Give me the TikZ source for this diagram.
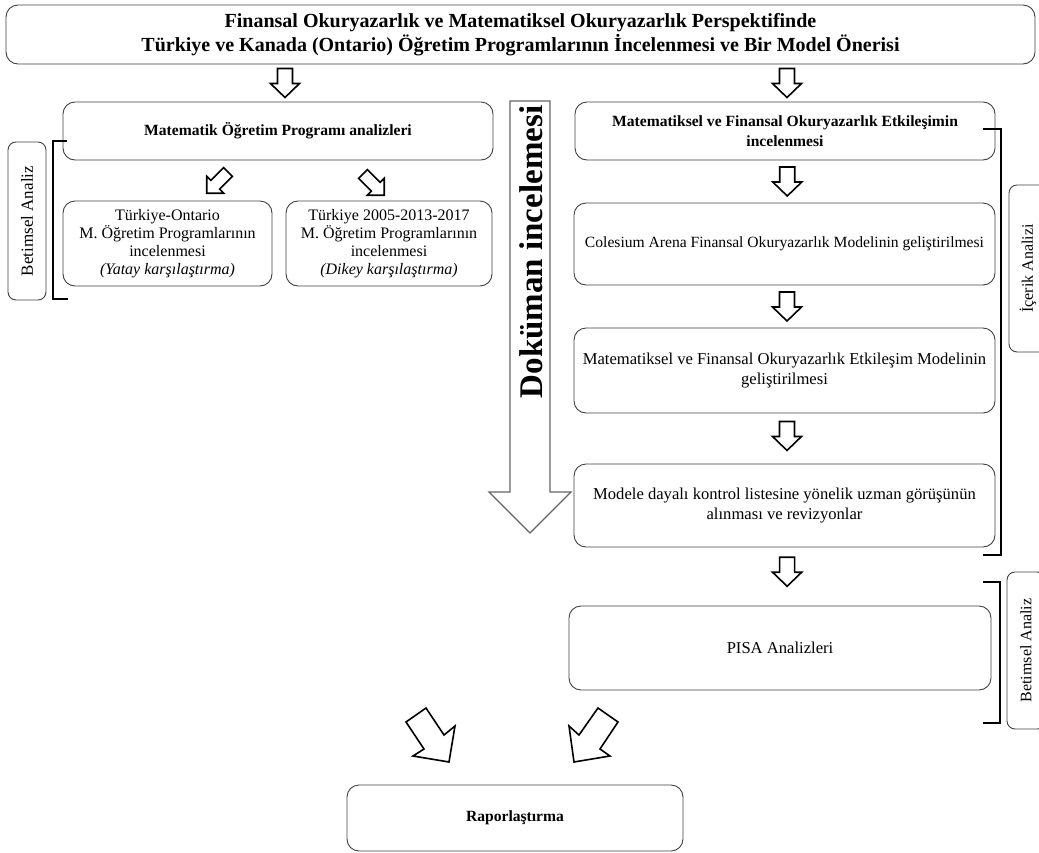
\documentclass[tikz,border=0pt]{standalone}
\usepackage{fontspec}
\setmainfont{Liberation Serif}
\usetikzlibrary{calc}

\tikzset{
  box/.style={draw=black!75, line width=0.9pt, rounded corners=12pt, align=center,
    inner sep=0pt, outer sep=0pt},
  titletext/.style={font=\bfseries\fontsize{20}{24}\selectfont},
  headtext/.style={font=\bfseries\fontsize{15.6}{20}\selectfont},
  bodytext/.style={font=\fontsize{16.6}{20}\selectfont},
  smalltext/.style={font=\fontsize{16}{18}\selectfont},
  sidebox/.style={draw=black!75, line width=0.9pt, rounded corners=8pt,
    inner sep=0pt, outer sep=0pt},
  sidetext/.style={font=\fontsize{16}{18}\selectfont, rotate=90},
  bracket/.style={draw=black, line width=2pt, line join=miter},
  barrow/.style={draw=black, line width=1.6pt, fill=white, line join=miter},
  bigarrow/.style={draw=black!60, line width=1.3pt, fill=white, line join=miter},
  % short hollow arrow pointing down, centred on the pic origin
  pics/downarrow/.style={code={
    \draw[barrow] (-7.5,-14.5) -- (7.5,-14.5) -- (7.5,0.5) -- (14.5,0.5)
      -- (0,14.5) -- (-14.5,0.5) -- (-7.5,0.5) -- cycle;}},
  % short hollow arrow pointing along +x, tail at the pic origin
  pics/tiltarrow/.style={code={
    \draw[barrow] (0,-6.25) -- (18,-6.25) -- (18,-12) -- (30,0)
      -- (18,12) -- (18,6.25) -- (0,6.25) -- cycle;}}
}

\begin{document}
\begin{tikzpicture}[x=1pt,y=-1pt]
\useasboundingbox (0,0) rectangle (1039,852);
\clip (0,0) rectangle (1039,852);

% title
\node[box, minimum width=1029pt, minimum height=59pt, titletext] (title) at (520.5,34.5)
  {Finansal Okuryazarlık ve Matematiksel Okuryazarlık Perspektifinde\\
   Türkiye ve Kanada (Ontario) Öğretim Programlarının İncelenmesi ve Bir Model Önerisi};

% left column
\node[box, minimum width=430pt, minimum height=58pt, headtext] (l1) at (278,131)
  {Matematik Öğretim Programı analizleri};
\node[box, minimum width=209pt, minimum height=85pt, smalltext] (l2) at (167.5,243.5)
  {Türkiye-Ontario\\M. Öğretim Programlarının\\incelenmesi\\\textit{(Yatay karşılaştırma)}};
\node[box, minimum width=206pt, minimum height=85pt, smalltext] (l3) at (389,243.5)
  {Türkiye 2005-2013-2017\\M. Öğretim Programlarının\\incelenmesi\\\textit{(Dikey karşılaştırma)}};

% right column
\node[box, minimum width=420pt, minimum height=58pt, headtext] (r1) at (785,131)
  {Matematiksel ve Finansal Okuryazarlık Etkileşimin\\incelenmesi};
\node[box, minimum width=421pt, minimum height=82pt, bodytext,
  font=\fontsize{15.6}{20}\selectfont] (r2) at (784.5,244)
  {Colesium Arena Finansal Okuryazarlık Modelinin geliştirilmesi};
\node[box, minimum width=421pt, minimum height=85pt, bodytext] (r3) at (784.5,370.5)
  {Matematiksel ve Finansal Okuryazarlık Etkileşim Modelinin\\geliştirilmesi};
\node[box, minimum width=421pt, minimum height=83pt, bodytext] (r4) at (784.5,505.5)
  {Modele dayalı kontrol listesine yönelik uzman görüşünün\\alınması ve revizyonlar};
\node[box, minimum width=422pt, minimum height=84pt, bodytext] (pisa) at (780,648)
  {PISA Analizleri};

% report
\node[box, minimum width=336pt, minimum height=66pt, headtext] (rap) at (515,818)
  {Raporlaştırma};

% down arrows
\pic at ($(title.south -| l1.north)!.5!(l1.north)+(7,0)$) {downarrow};
\pic at ($(title.south -| r1.north)!.5!(r1.north)+(2,0)$) {downarrow};
\pic at ($(r1.south)!.5!(r2.north)+(2.5,0)$) {downarrow};
\pic at ($(r2.south)!.5!(r3.north)+(2.5,0)$) {downarrow};
\pic at ($(r3.south)!.45!(r4.north)+(2.5,0)$) {downarrow};
\pic at ($(r4.south)!.42!(pisa.north)+(4.5,0)$) {downarrow};

% tilted arrows under the curriculum analysis box
\pic[rotate=-135] at (228,172) {tiltarrow};
\pic[rotate=-45] at (363,174) {tiltarrow};

% arrows into the report box
\draw[barrow] (406,722) -- (426,708) -- (444,735) -- (455,726) -- (449,762)
  -- (413,756) -- (424,749) -- cycle;
\draw[barrow] (598,708) -- (618,722) -- (600,749) -- (610,756) -- (574,762)
  -- (569,726) -- (579,735) -- cycle;

% document review arrow
\draw[bigarrow] (510,101) -- (550,101) -- (550,492) -- (571,492) -- (530,533)
  -- (489,492) -- (510,492) -- cycle;
\node[font=\bfseries\fontsize{33}{38}\selectfont, rotate=90] (dok) at (531,252)
  {Doküman incelemesi};

% side labels and brackets
\node[sidebox, minimum width=38pt, minimum height=158pt] (bl) at (27,221) {};
\node[sidetext, font=\fontsize{17}{18}\selectfont] at (bl) {Betimsel Analiz};
\draw[bracket] (67,141) -- (53,141) -- (53,299) -- (68,299);

\node[sidebox, minimum width=38pt, minimum height=167pt] (ic) at (1028,268.5) {};
\node[sidetext] at (ic) {İçerik Analizi};
\draw[bracket] (983,129) -- (1001,129) -- (1001,555) -- (983,555);

\node[sidebox, minimum width=38pt, minimum height=157pt] (br) at (1026,650.5) {};
\node[sidetext] at (br) {Betimsel Analiz};
\draw[bracket] (983,582) -- (1000,582) -- (1000,723) -- (983,723);
\end{tikzpicture}
\end{document}
